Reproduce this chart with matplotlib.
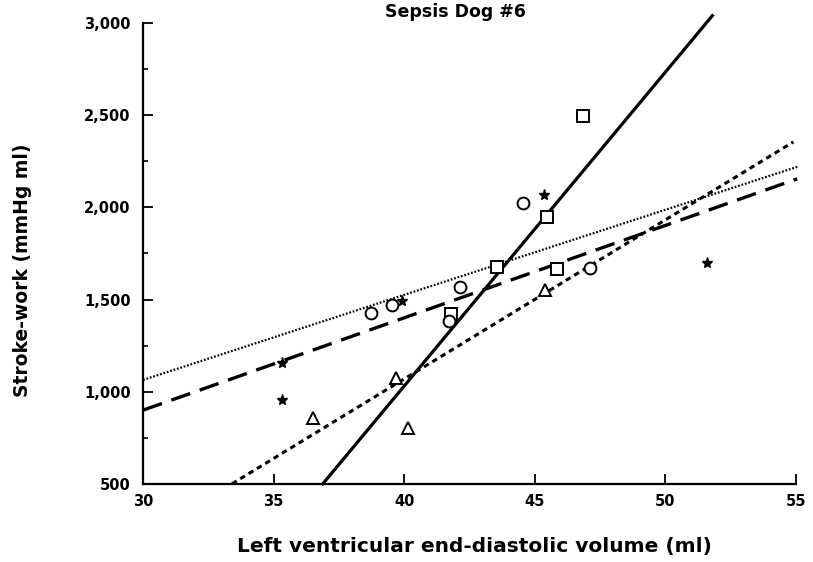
import matplotlib
matplotlib.use("Agg")
import matplotlib.pyplot as plt
from matplotlib.ticker import FuncFormatter, MultipleLocator

plt.rcParams['font.family'] = ['DejaVu Sans']
plt.rcParams['font.weight'] = 'bold'

# observed points (LVEDV ml, stroke-work mmHg ml)
sq_x = [46.85, 45.47, 43.55, 45.85, 41.8]
sq_y = [2495, 1950, 1676, 1668, 1420]
circ_x = [44.55, 42.14, 39.53, 38.73, 47.1, 41.7]
circ_y = [2023, 1568, 1470, 1427, 1671, 1385]
tri_x = [36.5, 40.15, 39.7, 45.4]
tri_y = [860, 803, 1075, 1552]
star_x = [45.35, 35.32, 35.32, 51.6, 39.9]
star_y = [2066, 1156, 955, 1697, 1490]

# regression line end points
solid_x = [36.88, 51.8]
solid_y = [500, 3040]
fine_x = [30, 55.05]
fine_y = [1064, 2220]
dash_x = [30, 55.05]
dash_y = [900, 2155]
short_x = [33.4, 54.9]
short_y = [500, 2355]

fig = plt.figure(figsize=(8.13, 5.62), dpi=100)
ax = fig.add_axes([0.176, 0.139, 0.803, 0.820])

ax.plot(solid_x, solid_y, color='black', lw=2.3, clip_on=False)
ax.plot(fine_x, fine_y, color='black', lw=1.6, linestyle=(0, (0.8, 0.8)), clip_on=False)
ax.plot(dash_x, dash_y, color='black', lw=2.4, linestyle=(0, (6, 3)), clip_on=False)
ax.plot(short_x, short_y, color='black', lw=2.2, linestyle=(0, (1.8, 1.4)), clip_on=False)

mk = dict(color='black', linestyle='none', markerfacecolor='white', markeredgewidth=1.4, clip_on=False)
ax.plot(sq_x, sq_y, marker='s', markersize=8, **mk)
ax.plot(circ_x, circ_y, marker='o', markersize=8.5, **mk)
ax.plot(tri_x, tri_y, marker='^', markersize=9, **mk)
ax.plot(star_x, star_y, marker='*', markersize=8, color='black', linestyle='none', clip_on=False)

ax.set_xlim(30, 55)
ax.set_ylim(500, 3000)
ax.set_xticks([30, 35, 40, 45, 50, 55])
ax.yaxis.set_major_locator(MultipleLocator(500))
ax.yaxis.set_minor_locator(MultipleLocator(250))
ax.yaxis.set_major_formatter(FuncFormatter(lambda v, p: f"{int(v):,}"))

for s in ['top', 'right']:
    ax.spines[s].set_visible(False)
for s in ['left', 'bottom']:
    ax.spines[s].set_linewidth(1.6)

ax.tick_params(axis='both', which='major', direction='in', length=7, width=1.3,
               labelsize=10.5)
ax.tick_params(axis='y', which='minor', direction='in', length=3.5, width=1.2)
ax.tick_params(axis='y', pad=9)
ax.tick_params(axis='x', pad=7)
for lab in ax.get_xticklabels() + ax.get_yticklabels():
    lab.set_fontweight('heavy')

fig.text(0.56, 0.978, 'Sepsis Dog #6', ha='center', va='center', fontsize=12.5, fontweight='heavy')
fig.text(0.584, 0.027, 'Left ventricular end-diastolic volume (ml)', ha='center', va='center',
         fontsize=14.5, fontweight='heavy')
fig.text(0.028, 0.52, 'Stroke-work (mmHg ml)', ha='center', va='center', rotation=90,
         fontsize=13.5, fontweight='heavy')

fig.savefig('out.png', dpi=100, facecolor='white')
